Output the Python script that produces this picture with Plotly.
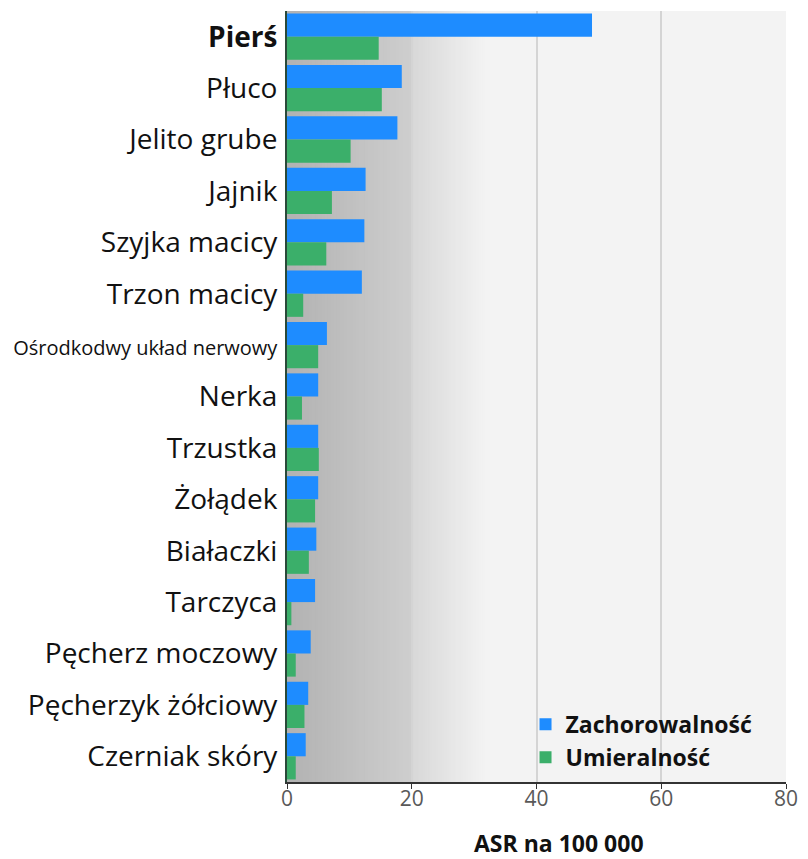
import plotly.graph_objects as go

categories = ["Pierś", "Płuco", "Jelito grube", "Jajnik", "Szyjka macicy", "Trzon macicy",
              "Ośrodkodwy układ nerwowy", "Nerka", "Trzustka", "Żołądek", "Białaczki",
              "Tarczyca", "Pęcherz moczowy", "Pęcherzyk żółciowy", "Czerniak skóry"]
zachorowalnosc = [48.9, 18.4, 17.7, 12.6, 12.4, 12.0, 6.4, 5.0, 5.0, 5.0, 4.7, 4.5, 3.8, 3.4, 3.0]
umieralnosc = [14.7, 15.2, 10.2, 7.2, 6.3, 2.6, 5.0, 2.4, 5.1, 4.5, 3.5, 0.7, 1.4, 2.8, 1.4]
x_ticks = [0, 20, 40, 60, 80]
x_title = "ASR na 100 000"

tick_text = []
for c in categories:
    if c == "Pierś":
        tick_text.append("<b>Pierś</b>")
    elif c.startswith("Ośrodk"):
        tick_text.append('<span style="font-size:20px">' + c + '</span>')
    else:
        tick_text.append(c)

fig = go.Figure()
fig.add_trace(go.Bar(y=categories, x=zachorowalnosc, orientation="h", name="<b>Zachorowalność</b>",
                     marker=dict(color="#1E8CFF", line=dict(width=0))))
fig.add_trace(go.Bar(y=categories, x=umieralnosc, orientation="h", name="<b>Umieralność</b>",
                     marker=dict(color="#3BAF6A", line=dict(width=0))))

# background gradient (decoration)
shapes = []
def lerp(a, b, t):
    return int(round(a + (b - a) * t))
n1 = 40
for i in range(n1):
    x0 = 20 * i / n1
    x1 = 20 if i == n1 - 1 else 20 * (i + 1) / n1 + 0.3
    g = lerp(0xB2, 0xCE, i / (n1 - 1))
    shapes.append(dict(type="rect", xref="x", yref="paper", x0=x0, x1=x1, y0=0, y1=1,
                       fillcolor=f"rgb({g},{g},{g})", line=dict(width=0), layer="below"))
n2 = 40
for i in range(n2):
    x0 = 20 + 12 * i / n2
    x1 = 20 + 12 * (i + 1) / n2 + 0.3
    g = lerp(0xD8, 0xF3, i / (n2 - 1))
    shapes.append(dict(type="rect", xref="x", yref="paper", x0=x0, x1=x1, y0=0, y1=1,
                       fillcolor=f"rgb({g},{g},{g})", line=dict(width=0), layer="below"))

fig.update_layout(
    width=800, height=851,
    margin=dict(l=279, r=22, t=3, b=77),
    paper_bgcolor="white",
    plot_bgcolor="#F3F3F3",
    barmode="group",
    bargap=0.1,
    bargroupgap=0,
    shapes=shapes,
    font=dict(family="'Open Sans', Lato, sans-serif", color="#1a1a1a"),
    legend=dict(x=0.478, y=0.004, xanchor="left", yanchor="bottom",
                bgcolor="rgba(0,0,0,0)", font=dict(size=23, color="#111"),
                traceorder="normal", itemwidth=30, tracegroupgap=0),
    xaxis=dict(range=[0, 80], tickvals=x_ticks, showgrid=True, gridcolor="#D4D4D4", gridwidth=2,
               zeroline=False, showline=True, linecolor="#333", linewidth=2,
               ticks="outside", ticklen=5, tickcolor="#333", ticklabelstandoff=-8,
               tickfont=dict(size=21, color="#595959")),
    yaxis=dict(autorange="reversed", tickvals=categories, ticktext=tick_text,
               tickfont=dict(size=28, color="#111"), showline=True, linecolor="#2a4a3a", linewidth=2,
               ticks="", ticklabelstandoff=2, showgrid=False),
    annotations=[dict(text="<b>" + x_title + "</b>", xref="paper", yref="paper",
                      x=0.545, y=-0.079, xanchor="center", yanchor="middle", showarrow=False,
                      font=dict(size=23, color="#111"))],
)
fig.write_html("out.html")
